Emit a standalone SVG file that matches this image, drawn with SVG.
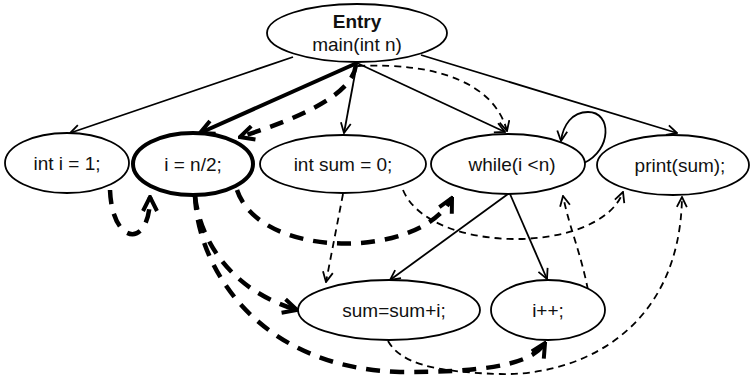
<svg xmlns="http://www.w3.org/2000/svg" width="754" height="378" viewBox="0 0 754 378">
<style>
.node ellipse{fill:#fff;stroke:#000;stroke-width:1.8}
.node.slice ellipse{stroke-width:4}
text{font-family:"Liberation Sans",Arial,sans-serif;font-size:19px;fill:#111;text-anchor:middle}
.b{font-weight:bold}
.ctl{fill:none;stroke:#000;stroke-width:1.8;marker-end:url(#a)}
.ctlT{fill:none;stroke:#000;stroke-width:4;marker-end:url(#A)}
.dat{fill:none;stroke:#000;stroke-width:1.8;stroke-dasharray:7 5;marker-end:url(#a)}
.datT{fill:none;stroke:#000;stroke-width:4.5;stroke-dasharray:14 10;marker-end:url(#A)}
</style>
<defs>
<marker id="a" viewBox="0 0 12 12" refX="11" refY="6" markerWidth="12" markerHeight="12" markerUnits="userSpaceOnUse" orient="auto">
<path d="M1,1 L11,6 L1,11" fill="none" stroke="#000" stroke-width="1.8"/>
</marker>
<marker id="A" viewBox="0 0 18 18" refX="16" refY="9" markerWidth="18" markerHeight="18" markerUnits="userSpaceOnUse" orient="auto">
<path d="M2,2 L16,9 L2,16" fill="none" stroke="#000" stroke-width="4"/>
</marker>
</defs>
<g id="edges">
<path class="ctl" d="M293,57 L70,133"/>
<path class="ctl" d="M357,63 L344,133"/>
<path class="ctl" d="M357,63 L505,132"/>
<path class="ctl" d="M421,55 L677,133"/>
<path class="ctl" d="M508,194 L390,280"/>
<path class="ctl" d="M510,194 L547,279"/>
<path class="ctl" d="M584,163 C612,150 612,112 588,112 C572,112 563,125 561,141"/>
<path class="ctlT" d="M357,63 L200,133"/>
<path class="datT" d="M356,65 C352,95 300,118 240,137"/>
<path class="datT" d="M110,190 C112,245 150,250 150,197"/>
<path class="datT" d="M237,190 C260,260 420,260 452,198"/>
<path class="datT" d="M195,196 C200,240 230,290 297,310"/>
<path class="datT" d="M195,196 C198,270 260,368 400,372 C470,372 530,368 545,343"/>
<path class="dat" d="M358,66 C440,62 495,85 507,131"/>
<path class="dat" d="M343,194 L326,282"/>
<path class="dat" d="M403,190 C430,255 600,255 623,192"/>
<path class="dat" d="M588,290 C580,250 570,230 563,196"/>
<path class="dat" d="M388,341 C400,362 430,372 500,374 C580,376 680,330 682,197"/>
</g>
<g id="entry" class="node"><ellipse cx="357" cy="33" rx="90" ry="29"/><text class="b" x="357" y="28">Entry</text><text x="357" y="51">main(int n)</text></g>
<g id="n_int_i" class="node"><ellipse cx="67" cy="163" rx="62" ry="30"/><text x="67" y="170">int i = 1;</text></g>
<g id="n_i_n2" class="node slice"><ellipse cx="193" cy="164" rx="60" ry="31"/><text x="193" y="171">i = n/2;</text></g>
<g id="n_int_sum" class="node"><ellipse cx="343" cy="164" rx="83" ry="29"/><text x="343" y="171">int sum = 0;</text></g>
<g id="n_while" class="node"><ellipse cx="508" cy="164" rx="77" ry="30"/><text x="512" y="171">while(i &lt;n)</text></g>
<g id="n_print" class="node"><ellipse cx="673" cy="165" rx="76" ry="30"/><text x="680" y="172">print(sum);</text></g>
<g id="n_sum" class="node"><ellipse cx="389" cy="310" rx="91" ry="30"/><text x="394" y="317">sum=sum+i;</text></g>
<g id="n_inc" class="node"><ellipse cx="548" cy="310" rx="57" ry="30"/><text x="548" y="317">i++;</text></g>
</svg>
